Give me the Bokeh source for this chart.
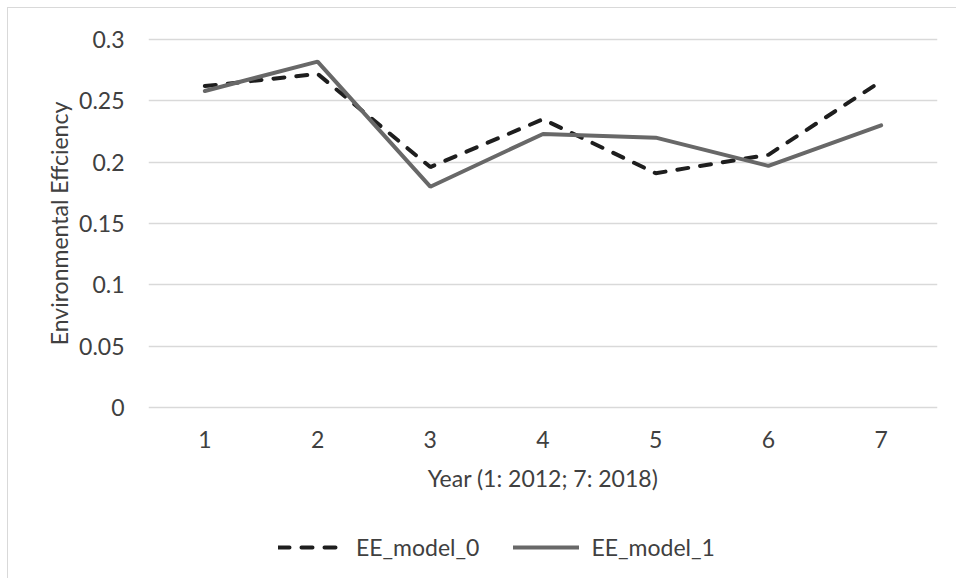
from bokeh.plotting import figure
from bokeh.layouts import column
from bokeh.models import Legend, LegendItem, FactorRange, FixedTicker, Range1d
from bokeh.embed import file_html
from bokeh.resources import INLINE

years = ["1", "2", "3", "4", "5", "6", "7"]
ee_model_0 = [0.262, 0.272, 0.196, 0.235, 0.191, 0.206, 0.266]
ee_model_1 = [0.258, 0.282, 0.180, 0.223, 0.220, 0.197, 0.230]
y_ticks = [0, 0.05, 0.1, 0.15, 0.2, 0.25, 0.3]
y_tick_labels = {0: "0", 0.05: "0.05", 0.1: "0.1", 0.15: "0.15", 0.2: "0.2", 0.25: "0.25", 0.3: "0.3"}
series_names = ["EE_model_0", "EE_model_1"]

FONT = "Lato"
FS = "23px"
TXT = "#404040"
DASH_COLOR = "#1e1e1e"
SOLID_COLOR = "#686868"

p = figure(width=948, height=500, x_range=FactorRange(*years),
           y_range=Range1d(-0.00163, 0.30163),
           output_backend="svg", toolbar_location=None,
           min_border_left=140, min_border_right=19, min_border_top=29, min_border_bottom=99)
p.outline_line_color = None
p.background_fill_color = "white"
p.border_fill_color = "white"

p.xgrid.grid_line_color = None
p.ygrid.grid_line_color = "#d9d9d9"
p.ygrid.grid_line_width = 1.3

p.yaxis.ticker = FixedTicker(ticks=y_ticks)
p.yaxis.major_label_overrides = y_tick_labels
for ax in (p.xaxis[0], p.yaxis[0]):
    ax.axis_line_color = None
    ax.major_tick_line_color = None
    ax.minor_tick_line_color = None
    ax.major_tick_out = 0
    ax.major_tick_in = 0
    ax.major_label_text_font = FONT
    ax.major_label_text_font_size = FS
    ax.major_label_text_color = TXT
    ax.axis_label_text_font = FONT
    ax.axis_label_text_font_size = FS
    ax.axis_label_text_font_style = "normal"
    ax.axis_label_text_color = TXT
p.xaxis.major_label_standoff = 21
p.yaxis.major_label_standoff = 24
p.xaxis.axis_label = "Year (1: 2012; 7: 2018)"
p.yaxis.axis_label = "Environmental Effciency"
p.xaxis.axis_label_standoff = 13
p.yaxis.axis_label_standoff = 3

p.line(years, ee_model_0, line_color=DASH_COLOR, line_width=4, line_dash="11 12", line_cap="round")
p.line(years, ee_model_1, line_color=SOLID_COLOR, line_width=4, line_cap="round")

# legend strip below the chart (its lines lie outside its view; only the legend shows)
lg = figure(width=948, height=70, x_axis_type=None, y_axis_type=None,
            x_range=FactorRange(*years), y_range=Range1d(10, 11),
            output_backend="svg", toolbar_location=None,
            min_border_left=0, min_border_right=0, min_border_top=0, min_border_bottom=0)
lg.outline_line_color = None
lg.grid.grid_line_color = None
lg.background_fill_color = "white"
lg.border_fill_color = "white"
g0 = lg.line(years, ee_model_0, line_color=DASH_COLOR, line_width=4, line_dash="11 12", line_cap="round")
g1 = lg.line(years, ee_model_1, line_color=SOLID_COLOR, line_width=4, line_cap="round")
legend = Legend(items=[LegendItem(label=series_names[0], renderers=[g0]),
                       LegendItem(label=series_names[1], renderers=[g1])],
                orientation="horizontal", location=(130, 17),
                glyph_width=66, label_standoff=12, spacing=34, padding=0, margin=0,
                label_text_font=FONT, label_text_font_size=FS, label_text_color=TXT,
                border_line_color=None, background_fill_alpha=0)
lg.add_layout(legend)

layout = column(p, lg, spacing=0)
layout.styles = {"margin-left": "7px", "margin-top": "7px",
                 "border-left": "1px solid #d9d9d9", "border-top": "1px solid #d9d9d9"}

open("out.html", "w").write(file_html(layout, INLINE))
